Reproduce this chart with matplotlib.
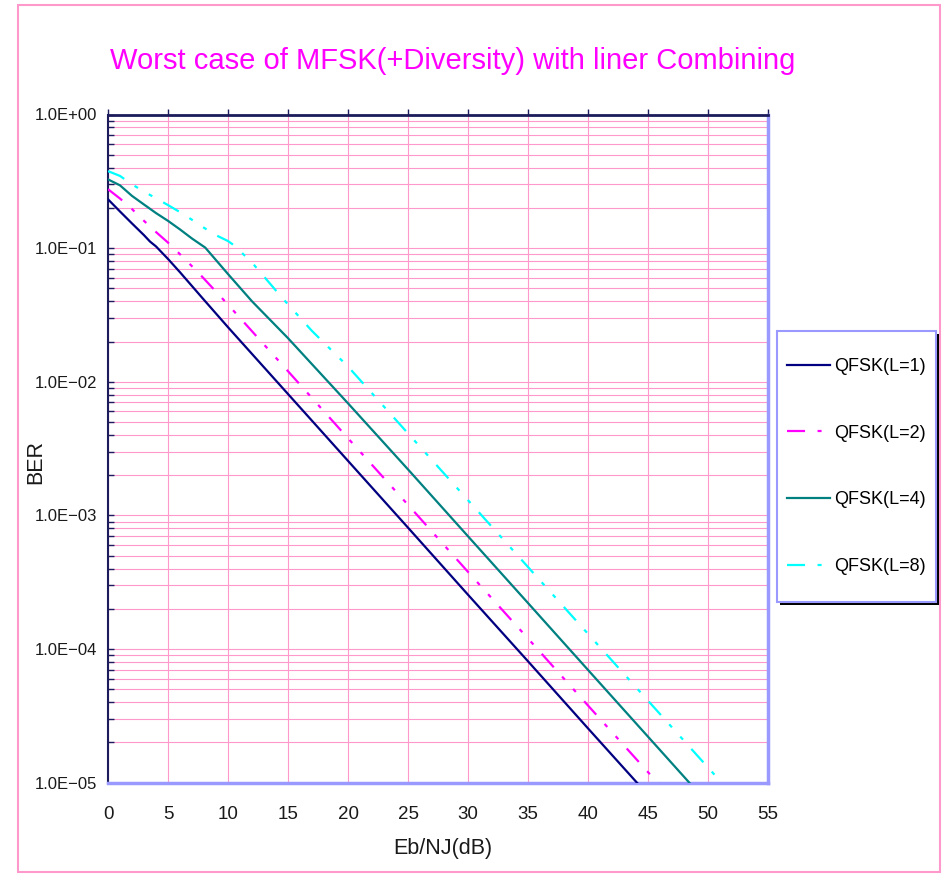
import math

import matplotlib
matplotlib.use("Agg")
import matplotlib.pyplot as plt
from matplotlib.patches import Rectangle
from matplotlib.ticker import LogLocator, FuncFormatter, NullFormatter

plt.rcParams["font.family"] = ["Liberation Sans", "DejaVu Sans"]
plt.rcParams["lines.scale_dashes"] = False

PINK     = "#FF99CC"
LAVENDER = "#9999FF"
AXIS     = "#1c1c5c"
TEXT     = "#1a1a1a"

# worst-case BER vs Eb/NJ for QFSK with L-fold diversity (linear combining)
ebnj_l1 = [0, 1, 2, 3, 3.5, 4, 5, 6, 8, 10, 15, 20, 25, 30, 35, 40, 45]
ber_l1  = [0.232, 0.188, 0.153, 0.125, 0.112, 0.103, 0.083, 0.066, 0.041, 0.0256,
           0.0081, 0.00256, 8.1e-4, 2.55e-4, 8.1e-5, 2.55e-5, 8.1e-6]

ebnj_l2 = [0, 1, 2, 3, 4, 5, 6, 7.5, 10, 15, 20, 25, 30, 35, 40, 45, 46]
ber_l2  = [0.276, 0.235, 0.196, 0.160, 0.132, 0.110, 0.090, 0.066, 0.0378,
           0.0120, 0.00378, 0.00120, 3.78e-4, 1.20e-4, 3.78e-5, 1.20e-5, 9.5e-6]

ebnj_l4 = [0, 1, 2, 3, 4, 5, 6, 7, 8.1, 10, 12, 15, 20, 25, 30, 35, 40, 45, 49]
ber_l4  = [0.327, 0.295, 0.246, 0.212, 0.183, 0.160, 0.138, 0.118, 0.101, 0.064,
           0.040, 0.0212, 0.0069, 0.00221, 6.98e-4, 2.21e-4, 6.98e-5, 2.21e-5, 8.8e-6]

ebnj_l8 = [0, 1, 2, 3, 4, 5, 6, 7, 8, 9, 10, 10.5, 12, 14.6, 17, 20, 25, 30, 35,
           40, 45, 50, 52]
ber_l8  = [0.377, 0.347, 0.300, 0.265, 0.236, 0.210, 0.186, 0.163, 0.142, 0.125,
           0.113, 0.105, 0.078, 0.0416, 0.024, 0.0130, 0.00411, 0.00130, 4.11e-4,
           1.30e-4, 4.11e-5, 1.30e-5, 8.2e-6]

x_ticks = [0, 5, 10, 15, 20, 25, 30, 35, 40, 45, 50, 55]
minor_subs = [2, 3, 4, 5, 6, 7, 8, 9]

# long dash, dot, dot (points)
DASH_DOT_DOT = (13, 9, 2.9, 9, 2.9, 9)


def sci_label(v, pos):
    e = int(round(math.log10(v)))
    sign = "+" if e >= 0 else "\u2212"
    return f"1.0E{sign}{abs(e):02d}"


fig = plt.figure(figsize=(9.46, 8.75), dpi=100)
W, H = 946, 875

# outer pink chart frame
fig.add_artist(Rectangle((18 / W, 1 - 872 / H), (940 - 18) / W, (872 - 5) / H,
                         transform=fig.transFigure, fill=False,
                         edgecolor=PINK, linewidth=1.5, zorder=1))

ax = fig.add_axes([108 / W, 1 - 782.7 / H, 660 / W, 668.2 / H])

ax.plot(ebnj_l1, ber_l1, color="#000080", lw=1.6, label="QFSK(L=1)", zorder=3)
ax.plot(ebnj_l2, ber_l2, color="#FF00FF", lw=1.6, dashes=DASH_DOT_DOT,
        label="QFSK(L=2)", zorder=3)
ax.plot(ebnj_l4, ber_l4, color="#008080", lw=1.6, label="QFSK(L=4)", zorder=3)
ax.plot(ebnj_l8, ber_l8, color="#00FFFF", lw=1.6, dashes=DASH_DOT_DOT,
        label="QFSK(L=8)", zorder=3)

ax.set_yscale("log")
ax.set_ylim(1e-5, 1)
ax.set_xlim(0, 55)
ax.set_xticks(x_ticks)
ax.yaxis.set_major_locator(LogLocator(base=10, numticks=20))
ax.yaxis.set_minor_locator(LogLocator(base=10, subs=minor_subs, numticks=20))
ax.yaxis.set_major_formatter(FuncFormatter(sci_label))
ax.yaxis.set_minor_formatter(NullFormatter())

ax.set_axisbelow(True)
ax.grid(which="major", axis="both", color=PINK, linewidth=0.8)
ax.grid(which="minor", axis="y", color=PINK, linewidth=0.8)

ax.tick_params(axis="x", which="both", bottom=False, top=True,
               labelbottom=True, labeltop=False, direction="out",
               length=4.5, width=1, color=AXIS, labelsize=13.5,
               labelcolor=TEXT, pad=12.5)
ax.tick_params(axis="y", which="both", left=True, right=False, direction="in",
               length=4.5, width=1, color=AXIS, labelsize=12,
               labelcolor=TEXT, pad=8)

ax.spines["top"].set_color(AXIS)
ax.spines["top"].set_linewidth(2)
ax.spines["left"].set_color(AXIS)
ax.spines["left"].set_linewidth(1.5)
for side in ("right", "bottom"):
    ax.spines[side].set_color(LAVENDER)
    ax.spines[side].set_linewidth(2.5)

ax.set_xlabel("Eb/NJ(dB)", fontsize=15.5, color=TEXT)
ax.set_ylabel("BER", fontsize=15.5, color=TEXT)
ax.xaxis.set_label_coords(0.5076, -0.0828)
ax.yaxis.set_label_coords(-0.093, 0.48)

fig.text(453 / W, 1 - 61 / H, "Worst case of MFSK(+Diversity) with liner Combining",
         ha="center", va="center", fontsize=21, color="#FF00FF")

# legend box with a hard drop shadow
bx, by, bw, bh = 777, 602, 159, 271
fig.add_artist(Rectangle(((bx + 3) / W, 1 - (by + 3) / H), bw / W, bh / H,
                         transform=fig.transFigure, facecolor="black",
                         edgecolor="none", zorder=3))
fig.add_artist(Rectangle((bx / W, 1 - by / H), bw / W, bh / H,
                         transform=fig.transFigure, facecolor="white",
                         edgecolor=LAVENDER, linewidth=1.5, zorder=3.5))
handles, labels = ax.get_legend_handles_labels()
leg = fig.legend(handles, labels, loc="center",
                 bbox_to_anchor=((bx + bw / 2) / W, 1 - (by - bh / 2) / H),
                 frameon=False, fontsize=13, handlelength=2.4,
                 handletextpad=0.25, labelspacing=2.75)
leg.set_zorder(5)

fig.savefig("out.png", dpi=100)
